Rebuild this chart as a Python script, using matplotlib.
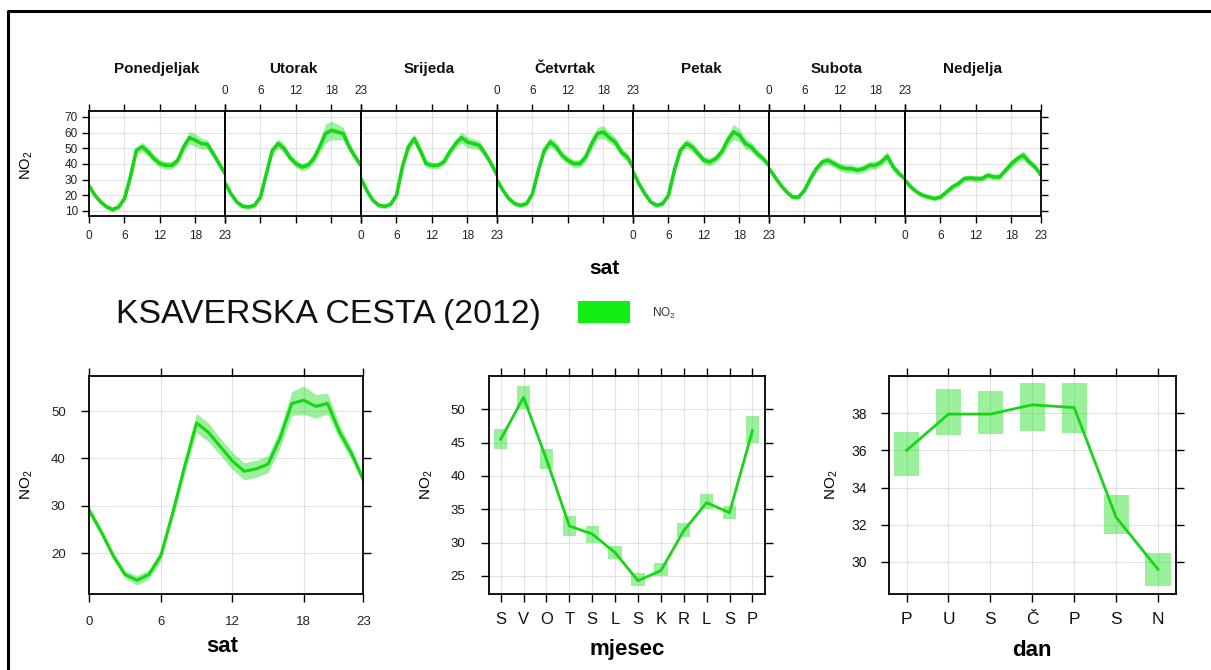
import matplotlib
matplotlib.use('Agg')
import matplotlib.pyplot as plt
from matplotlib.lines import Line2D
from matplotlib.patches import Rectangle

plt.rcParams['font.family'] = ['Liberation Sans', 'DejaVu Sans']
plt.rcParams['mathtext.default'] = 'regular'

# ---------------- data ----------------
hours = list(range(24))
day_names = ['Ponedjeljak', 'Utorak', 'Srijeda', 'Četvrtak', 'Petak', 'Subota', 'Nedjelja']

mon = [26, 20, 15.7, 12.6, 10.9, 12.6, 17.9, 31.7, 48.7, 50.9, 47.7, 43.4, 40.2, 39.1, 39.1, 42.3, 50.9, 56.8, 55.1, 53, 52.6, 46.6, 40.2, 33.8]
tue = [28, 21, 15.7, 13, 12.6, 13.6, 19, 33.8, 48.7, 53, 49.8, 44, 40.2, 38.1, 39.1, 43.4, 50.9, 59.4, 61.5, 60.4, 59.4, 50.9, 44.5, 39.1]
wed = [30.6, 23, 16.8, 13.6, 13, 14.3, 20, 38.1, 50.9, 56.2, 48.7, 40.2, 39.1, 39.1, 41.3, 47.7, 53, 56.8, 54, 53, 51.9, 46.6, 40.2, 33]
thu = [29.6, 23.2, 17.9, 14.7, 13.6, 14.7, 21, 36, 48.7, 54, 50.9, 45.5, 42.3, 40.2, 40.2, 44.5, 53, 59.4, 60.4, 56.8, 54, 47.7, 44.5, 38.1]
fri = [35, 27.4, 21, 15.7, 13.6, 14.7, 20, 36, 48.7, 53, 50.9, 46.6, 42.3, 41.3, 43.4, 47.7, 55.1, 60.4, 58.3, 53, 50.9, 46.6, 43.4, 39.1]
sat = [37, 31.7, 26.4, 22.1, 18.9, 18.9, 23.2, 30.6, 37, 41.3, 42.3, 40.2, 38.1, 37, 37, 36, 37, 39.1, 39.1, 41.3, 44.9, 38.1, 33.8, 30.6]
sun = [29.6, 25.3, 22.1, 20, 18.9, 17.9, 18.9, 22.1, 25.3, 27.4, 30.6, 31, 30.6, 30.6, 32.8, 31.7, 31.7, 36, 40.2, 43.4, 45.5, 41.3, 38.1, 32.8]

mon_ci = [1.5, 1.5, 1.5, 1.5, 1.5, 1.5, 1.5, 2, 2.5, 3, 3, 2.5, 2.5, 2.5, 2.5, 2.5, 3, 4, 4, 3.5, 3, 2.5, 2, 2]
tue_ci = [1.5, 1.5, 1.5, 1.5, 1.5, 1.5, 1.5, 2, 2.5, 3, 3, 2.5, 2.5, 2.5, 2.5, 3, 4, 6, 6, 5, 4, 3, 2.5, 2]
wed_ci = [1.5, 1.5, 1.5, 1.5, 1.5, 1.5, 1.5, 2, 2.5, 3, 3, 2.5, 2, 2, 2, 2.5, 3, 3.5, 3.5, 3, 3, 2.5, 2, 2]
thu_ci = [1.5, 1.5, 1.5, 1.5, 1.5, 1.5, 1.5, 2, 2.5, 3, 3, 2.5, 2.5, 2.5, 2.5, 3, 3.5, 4, 4, 3.5, 3, 3, 2.5, 2.5]
fri_ci = [1.5, 1.5, 1.5, 1.5, 1.5, 1.5, 1.5, 2, 2.5, 3, 3, 2.5, 2.5, 2.5, 2.5, 3, 3.5, 5, 4, 3.5, 3, 2.5, 2, 2]
sat_ci = [1.5, 1.5, 1.5, 1.5, 1.5, 1.5, 1.5, 2, 2, 2.5, 2.5, 2.5, 2.5, 2.5, 2.5, 2.5, 2.5, 2.5, 2.5, 2.5, 3, 2.5, 2, 1.5]
sun_ci = [1.5, 1.5, 1.5, 1.5, 1.5, 1.5, 1.5, 1.5, 2, 2, 2, 2, 2, 2, 2, 2, 2, 2, 2.5, 2.5, 3, 2.5, 2, 1.5]

week_means = [mon, tue, wed, thu, fri, sat, sun]
week_cis = [mon_ci, tue_ci, wed_ci, thu_ci, fri_ci, sat_ci, sun_ci]

hour_mean = [29, 24.5, 19.5, 15.5, 14.3, 15.5, 19.5, 28.5, 38.3, 47.5, 45.5, 42.5, 39.5, 37.3, 37.8, 38.8, 44.2, 51.6, 52.3, 51, 51.6, 45.6, 41.1, 35.5]
hour_ci = [0.8, 0.8, 0.8, 0.8, 1, 1, 1, 1.2, 1.5, 2, 2, 1.8, 1.8, 1.8, 1.8, 1.8, 2, 2.5, 3, 2.5, 2.2, 1.5, 1.2, 1]

month_labels = ['S', 'V', 'O', 'T', 'S', 'L', 'S', 'K', 'R', 'L', 'S', 'P']
month_mean = [45.5, 51.8, 42.5, 32.5, 31.3, 28.5, 24.3, 25.8, 31.8, 36, 34.5, 46.8]
month_lo = [44, 50, 41, 31, 30, 27.5, 23.5, 25, 30.8, 35, 33.5, 45]
month_hi = [47, 53.5, 44, 34, 32.5, 29.5, 25.5, 27, 33, 37.3, 35.5, 49]

weekday_labels = ['P', 'U', 'S', 'Č', 'P', 'S', 'N']
day_mean = [36.0, 37.95, 37.95, 38.45, 38.3, 32.4, 29.6]
day_lo = [34.6, 36.8, 36.9, 37.05, 36.95, 31.5, 28.7]
day_hi = [37.0, 39.3, 39.2, 39.6, 39.6, 33.6, 30.5]

title = 'KSAVERSKA CESTA (2012)'

# ---------------- style ----------------
LINE = '#17d617'
BAND = '#22e022'
BAND_A = 0.45
GRID = '#e2e2e2'

W, H = 1211, 670
fig = plt.figure(figsize=(W / 100, H / 100), dpi=100)


def add_ax(x0, y0, x1, y1):
    return fig.add_axes([x0 / W, 1 - y1 / H, (x1 - x0) / W, (y1 - y0) / H])


def frame(ax, lw=1.3):
    for s in ax.spines.values():
        s.set_linewidth(lw)
        s.set_color('black')
    ax.set_axisbelow(True)


# ---------------- top: hour x weekday ----------------
tx0, tx1, ty0, ty1 = 89, 1041, 111, 216
pw = (tx1 - tx0) / 7
for i in range(7):
    ax = add_ax(tx0 + i * pw, ty0, tx0 + (i + 1) * pw, ty1)
    frame(ax)
    m = week_means[i]
    c = week_cis[i]
    lo = [a - b for a, b in zip(m, c)]
    hi = [a + b for a, b in zip(m, c)]
    ax.fill_between(hours, lo, hi, color=BAND, alpha=BAND_A, lw=0)
    ax.plot(hours, m, color=LINE, lw=2.6, solid_capstyle='round', solid_joinstyle='round')
    ax.set_xlim(0, 23)
    ax.set_ylim(6.8, 73.8)
    ax.set_xticks([0, 6, 12, 18, 23])
    ax.set_yticks([10, 20, 30, 40, 50, 60, 70])
    ax.grid(True, color=GRID, lw=0.8)
    ax.tick_params(axis='x', direction='out', length=5, width=1, top=True, bottom=True,
                   labelbottom=(i % 2 == 0), labeltop=(i % 2 == 1), labelsize=8.5, pad=5,
                   colors='black', labelcolor='#222222')
    ax.tick_params(axis='y', direction='out', length=5 if i in (0, 6) else 0, width=1,
                   left=(i == 0), right=(i == 6), labelleft=(i == 0), labelright=False,
                   labelsize=8.5, pad=3, labelcolor='#222222')
    fig.text((tx0 + (i + 0.5) * pw) / W, 1 - 69 / H, day_names[i], ha='center', va='center',
             fontsize=11, fontweight='bold', color='#111111')

fig.text(604 / W, 1 - 268 / H, 'sat', ha='center', va='center', fontsize=15, fontweight='bold')
fig.text(27 / W, 1 - 165 / H, 'NO$_2$', ha='center', va='center', rotation=90, fontsize=10.5)

# ---------------- title & legend ----------------
fig.text(116 / W, 1 - 315 / H, title, ha='left', va='center', fontsize=24.3, color='#111111')
fig.patches.append(Rectangle((578 / W, 1 - 323 / H), 52 / W, 22 / H, transform=fig.transFigure,
                             facecolor='#11ee11', edgecolor='none'))
fig.text(652 / W, 1 - 313 / H, 'NO$_2$', ha='left', va='center', fontsize=8.5, color='#333333')

# ---------------- bottom: hour ----------------
by0, by1 = 376, 594
ax = add_ax(89.3, by0, 363.3, by1)
frame(ax)
lo = [a - b for a, b in zip(hour_mean, hour_ci)]
hi = [a + b for a, b in zip(hour_mean, hour_ci)]
ax.fill_between(hours, lo, hi, color=BAND, alpha=BAND_A, lw=0)
ax.plot(hours, hour_mean, color=LINE, lw=2.2, solid_joinstyle='round')
ax.set_xlim(0, 23)
ax.set_ylim(11.4, 57.4)
ax.set_xticks([0, 6, 12, 18, 23])
ax.set_yticks([20, 30, 40, 50])
ax.grid(True, color=GRID, lw=0.8)
ax.tick_params(axis='both', direction='out', length=6, width=1, top=True, right=True,
               labeltop=False, labelright=False, labelsize=9.5, labelcolor='#222222')
ax.tick_params(axis='x', pad=10)
ax.tick_params(axis='y', pad=11)
fig.text(222 / W, 1 - 647 / H, 'sat', ha='center', va='center', fontsize=16, fontweight='bold')
fig.text(27 / W, 1 - 485 / H, 'NO$_2$', ha='center', va='center', rotation=90, fontsize=11)

# ---------------- bottom: month ----------------
ax = add_ax(489, by0, 765, by1)
frame(ax)
mx = list(range(1, 13))
ax.bar(mx, [h - l for h, l in zip(month_hi, month_lo)], bottom=month_lo, width=0.58,
       color=BAND, alpha=BAND_A, lw=0)
ax.plot(mx, month_mean, color=LINE, lw=2.0)
ax.set_xlim(0.49, 12.55)
ax.set_ylim(22.3, 55.0)
ax.set_xticks(mx)
ax.set_xticklabels(month_labels)
ax.set_yticks([25, 30, 35, 40, 45, 50])
ax.grid(True, color=GRID, lw=0.8)
ax.tick_params(axis='both', direction='out', length=6, width=1, top=True, right=True,
               labeltop=False, labelright=False, labelcolor='#111111')
ax.tick_params(axis='x', labelsize=12, pad=7)
ax.tick_params(axis='y', labelsize=9.5, pad=11)
fig.text(627 / W, 1 - 650 / H, 'mjesec', ha='center', va='center', fontsize=16, fontweight='bold')
fig.text(427 / W, 1 - 485 / H, 'NO$_2$', ha='center', va='center', rotation=90, fontsize=11)

# ---------------- bottom: weekday ----------------
ax = add_ax(889, by0, 1176, by1)
frame(ax)
dx = list(range(1, 8))
ax.bar(dx, [h - l for h, l in zip(day_hi, day_lo)], bottom=day_lo, width=0.6,
       color=BAND, alpha=BAND_A, lw=0)
ax.plot(dx, day_mean, color=LINE, lw=2.0)
ax.set_xlim(0.58, 7.43)
ax.set_ylim(28.27, 40.0)
ax.set_xticks(dx)
ax.set_xticklabels(weekday_labels)
ax.set_yticks([30, 32, 34, 36, 38])
ax.grid(True, color=GRID, lw=0.8)
ax.tick_params(axis='both', direction='out', length=6, width=1, top=True, right=True,
               labeltop=False, labelright=False, labelcolor='#111111')
ax.tick_params(axis='x', labelsize=12.5, pad=7)
ax.tick_params(axis='y', labelsize=10, pad=10)
fig.text(1032 / W, 1 - 650 / H, 'dan', ha='center', va='center', fontsize=16, fontweight='bold')
fig.text(832 / W, 1 - 485 / H, 'NO$_2$', ha='center', va='center', rotation=90, fontsize=11)

# ---------------- outer frame (left & top) ----------------
fig.lines.append(Line2D([8 / W, 8 / W, 1.0], [0.0, 1 - 11 / H, 1 - 11 / H],
                        transform=fig.transFigure, color='black', lw=2.2))

fig.savefig('out.png', dpi=100)
